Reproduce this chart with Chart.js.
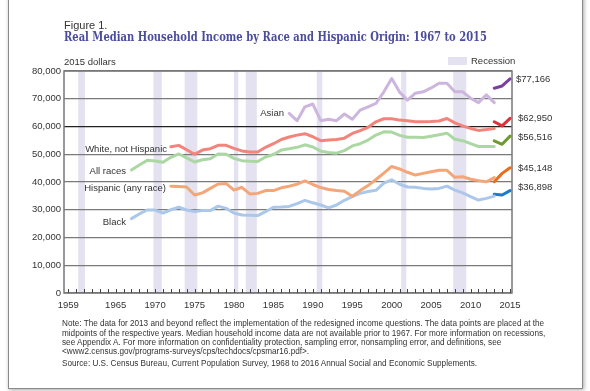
<!DOCTYPE html>
<html>
<head>
<meta charset="utf-8">
<script src="https://cdn.jsdelivr.net/npm/chart.js@4.4.1/dist/chart.umd.min.js"></script>
<style>
  body { margin: 0; width: 590px; height: 391px; overflow: hidden; background: #fff; position: relative;
         font-family: "Liberation Sans", Arial, sans-serif; color: #333; }
  #frame { position: absolute; left: 8px; top: -4px; width: 573px; height: 391px; border: 1px solid #8a8a8a;
           box-shadow: 1px 1px 4px rgba(0,0,0,0.35); background: #fff; }
  #wrap { position: absolute; left: 0; top: 0; width: 590px; height: 391px; }
  .t { position: absolute; white-space: nowrap; line-height: 1; }
  .lbl { font-size: 9.5px; color: #333; }
  .note { font-size: 7.3px; color: #333; left: 62px; }
</style>
</head>
<body>
<div id="frame"></div>
<div id="wrap"><canvas id="chart" width="590" height="391"></canvas></div>

<div class="t" style="left:64px;top:20px;font-size:11px;color:#333">Figure 1.</div>
<div class="t" id="title" style="left:64px;top:30px;font-size:13px;font-weight:bold;color:#4b4c9e;font-family:'DejaVu Serif',serif;transform-origin:left center">Real Median Household Income by Race and Hispanic Origin: 1967 to 2015</div>
<div class="t lbl" style="left:64px;top:57px">2015 dollars</div>
<div style="position:absolute;left:448px;top:57px;width:19px;height:8px;background:#e4e2f0"></div>
<div class="t lbl" style="left:471px;top:56px">Recession</div>

<div class="t lbl" style="right:306px;top:108px">Asian</div>
<div class="t lbl" style="right:423px;top:144px">White, not Hispanic</div>
<div class="t lbl" style="right:464px;top:166px">All races</div>
<div class="t lbl" style="right:424px;top:183px">Hispanic (any race)</div>
<div class="t lbl" style="right:464px;top:217px">Black</div>

<div class="t lbl" style="left:516px;top:74px">$77,166</div>
<div class="t lbl" style="left:518px;top:113px">$62,950</div>
<div class="t lbl" style="left:518px;top:132px">$56,516</div>
<div class="t lbl" style="left:518px;top:163px">$45,148</div>
<div class="t lbl" style="left:518px;top:182px">$36,898</div>

<div class="t note" id="n1" style="top:320px">Note: The data for 2013 and beyond reflect the implementation of the redesigned income questions. The data points are placed at the</div>
<div class="t note" style="top:330px">midpoints of the respective years. Median household income data are not available prior to 1967. For more information on recessions,</div>
<div class="t note" style="top:339px">see Appendix A. For more information on confidentiality protection, sampling error, nonsampling error, and definitions, see</div>
<div class="t note" style="top:348px">&lt;www2.census.gov/programs-surveys/cps/techdocs/cpsmar16.pdf&gt;.</div>
<div class="t note" style="top:360px">Source: U.S. Census Bureau, Current Population Survey, 1968 to 2016 Annual Social and Economic Supplements.</div>

<script>
// years of the old (pre-redesign) estimates
const years = [1967, 1968, 1969, 1970, 1971, 1972, 1973, 1974, 1975, 1976, 1977, 1978, 1979,
  1980, 1981, 1982, 1983, 1984, 1985, 1986, 1987, 1988, 1989, 1990, 1991, 1992, 1993, 1994,
  1995, 1996, 1997, 1998, 1999, 2000, 2001, 2002, 2003, 2004, 2005, 2006, 2007, 2008, 2009,
  2010, 2011, 2012, 2013];
const newYears = [2013, 2014, 2015];

const allRaces = [44300, 46100, 47800, 47600, 47100, 48900, 50100, 48700, 47200, 48000, 48400, 50100, 50000,
  48500, 47700, 47500, 47400, 49000, 49900, 51500, 52000, 52500, 53400, 52600, 51100, 50600, 50400, 51300,
  53000, 53800, 55100, 56900, 58100, 58000, 56800, 56100, 56100, 56000, 56500, 57000, 57600, 55400, 54900,
  53800, 52800, 52800, 52800];
const white = [null, null, null, null, null, 52700, 53200, 51600, 50000, 51500, 52000, 53200, 53200,
  52100, 51200, 50800, 50800, 52500, 53800, 55300, 56200, 56900, 57400, 56300, 54900, 55100, 55300, 55800,
  57500, 58500, 59700, 61700, 62800, 62800, 62300, 62100, 61700, 61700, 61800, 62000, 62900, 61300, 60200,
  59300, 58600, 58900, 59300];
const hispanic = [null, null, null, null, null, 38500, 38400, 38200, 35300, 36100, 37700, 39300, 39500,
  37100, 38100, 35700, 35900, 36900, 36900, 37900, 38500, 39200, 40400, 39100, 38000, 37300, 36900, 36700,
  34900, 36900, 38700, 40900, 43200, 45600, 44700, 43500, 42500, 43100, 43700, 44200, 44200, 41700, 41900,
  41000, 40500, 40100, 41600];
const black = [26800, 28500, 29900, 29900, 28800, 30000, 30900, 29900, 29400, 29700, 29700, 31300, 30500,
  28800, 28100, 28000, 27900, 29300, 30900, 31000, 31200, 32200, 33400, 32500, 31700, 30700, 31700, 33400,
  34700, 35900, 36600, 37000, 39600, 40800, 39200, 38200, 38100, 37700, 37500, 37700, 38500, 37100, 36100,
  34700, 33500, 34100, 34900];
const asian = [null, null, null, null, null, null, null, null, null, null, null, null, null,
  null, null, null, null, null, null, null, 64700, 62100, 67100, 68100, 62100, 62600, 62100, 64500,
  62600, 65900, 67100, 68300, 72500, 77300, 72400, 69500, 72000, 72500, 73900, 75600, 75600, 72500, 72500,
  70200, 68600, 71400, 68600];

// redesigned questions, 2013-2015
const asianNew = [73800, 74600, 77166];
const whiteNew = [61700, 60200, 62950];
const allNew = [54800, 53600, 56516];
const hispanicNew = [40100, 43100, 45148];
const blackNew = [35600, 35300, 36898];

const recessions = [[1960.25, 1961.1], [1969.8, 1970.85], [1973.75, 1975.35], [1980.0, 1980.55],
  [1981.5, 1982.9], [1990.5, 1991.2], [2001.2, 2001.85], [2007.8, 2009.45]];
const xTickYears = [1959, 1965, 1970, 1975, 1980, 1985, 1990, 1995, 2000, 2005, 2010, 2015];

function pts(xs, vals) {
  return xs.map((yr, i) => ({ x: yr, y: vals[i] })).filter(p => p.y !== null);
}

function line(data, color) {
  return {
    data: data, borderColor: color, borderWidth: 3, pointRadius: 0, tension: 0,
    borderJoinStyle: 'round', borderCapStyle: 'round', fill: false
  };
}

const decor = {
  id: 'decor',
  beforeDraw(chart) {
    const { ctx, chartArea: a, scales: { x } } = chart;
    ctx.save();
    ctx.fillStyle = '#e4e2f0';
    recessions.forEach(([s, e]) => {
      const x1 = x.getPixelForValue(s);
      const x2 = x.getPixelForValue(e);
      ctx.fillRect(x1, a.top, x2 - x1, a.bottom - a.top);
    });
    ctx.restore();
  },
  afterDraw(chart) {
    const { ctx, chartArea: a, scales: { x } } = chart;
    ctx.save();
    ctx.strokeStyle = '#777';
    ctx.lineWidth = 1.5;
    ctx.strokeRect(a.left, a.top, a.right - a.left, a.bottom - a.top);
    // small year ticks pointing into the plot
    ctx.strokeStyle = '#444';
    ctx.lineWidth = 1;
    ctx.beginPath();
    for (let yr = 1959; yr <= 2015; yr++) {
      const px = Math.round(x.getPixelForValue(yr)) + 0.5;
      ctx.moveTo(px, a.bottom);
      ctx.lineTo(px, a.bottom - 4);
    }
    ctx.stroke();
    ctx.restore();
  }
};

const tickFont = { family: '"Liberation Sans", Arial, sans-serif', size: 9.5 };

new Chart(document.getElementById('chart').getContext('2d'), {
  type: 'line',
  data: {
    datasets: [
      line(pts(years, asian), '#cdb6dd'),
      line(pts(years, white), '#f3847b'),
      line(pts(years, allRaces), '#abd8a2'),
      line(pts(years, hispanic), '#f5a678'),
      line(pts(years, black), '#abc7ea'),
      line(pts(newYears, asianNew), '#7b3f9e'),
      line(pts(newYears, whiteNew), '#e0313b'),
      line(pts(newYears, allNew), '#6f9a2c'),
      line(pts(newYears, hispanicNew), '#e86d1c'),
      line(pts(newYears, blackNew), '#1d7ac8')
    ]
  },
  options: {
    responsive: false,
    animation: false,
    layout: { padding: { left: 0, top: 71, right: 78, bottom: 78 } },
    plugins: { legend: { display: false }, tooltip: { enabled: false } },
    scales: {
      x: {
        type: 'linear',
        min: 1958.45,
        max: 2015.25,
        afterBuildTicks: (s) => { s.ticks = xTickYears.map(v => ({ value: v })); },
        afterFit: (s) => { s.height = 20; },
        grid: { display: false },
        border: { display: false },
        ticks: { font: tickFont, color: '#333', padding: -1, maxRotation: 0, autoSkip: false,
          callback: (v) => String(v) }
      },
      y: {
        min: 0,
        max: 80000,
        afterFit: (s) => { s.width = 64; },
        grid: {
          drawTicks: false,
          lineWidth: 1.3,
          color: (c) => c.tick && c.tick.value === 60000 ? '#222' : '#7a7a7a'
        },
        border: { display: false },
        ticks: { stepSize: 10000, font: tickFont, color: '#333', padding: 3,
          callback: (v) => v.toLocaleString('en-US') }
      }
    }
  },
  plugins: [decor]
});

// squeeze title and notes to the widths of the original
const title = document.getElementById('title');
title.style.transform = 'scaleX(' + (423 / title.getBoundingClientRect().width) + ')';
const n1 = document.getElementById('n1');
const noteSize = 7.3 * 483 / n1.getBoundingClientRect().width;
document.querySelectorAll('.note').forEach(el => { el.style.fontSize = noteSize + 'px'; });
</script>
</body>
</html>
